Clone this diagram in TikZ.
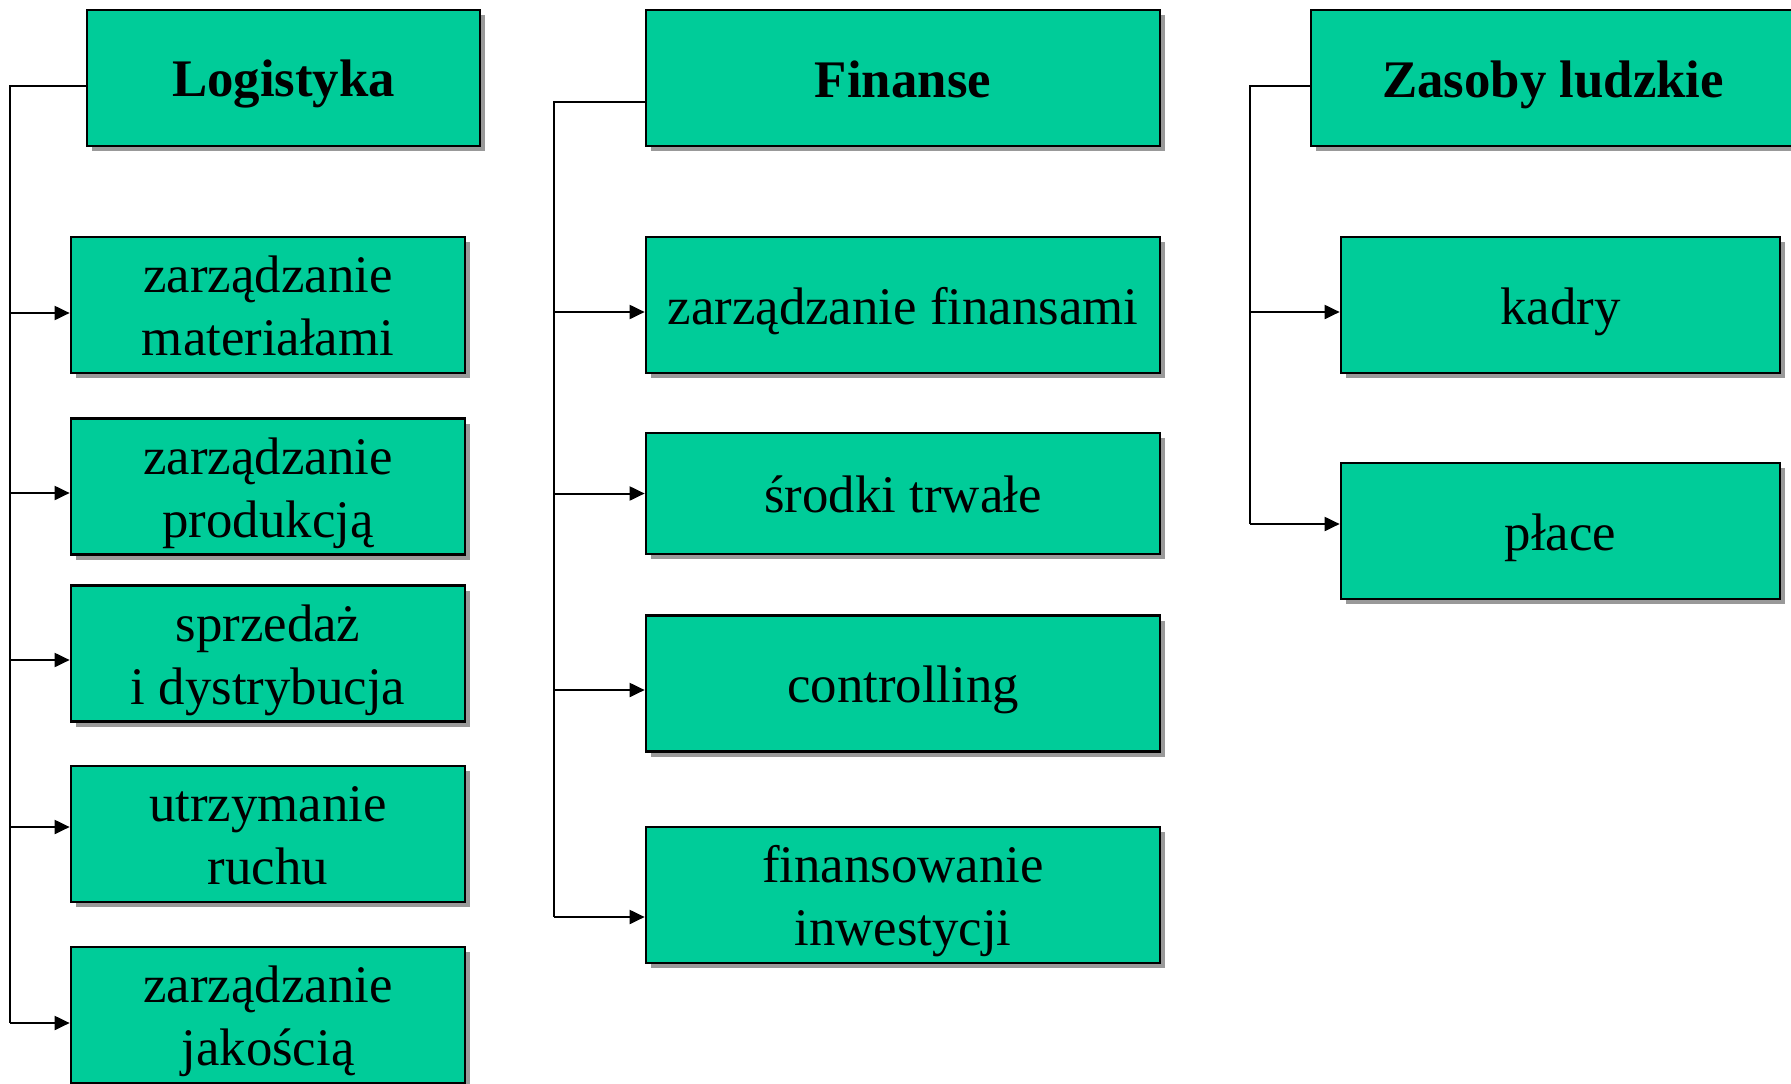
\documentclass[tikz,border=0pt]{standalone}
\usepackage{fontspec}
\setmainfont{Liberation Serif}
\usetikzlibrary{arrows.meta,calc,shadows}
\definecolor{boxgreen}{RGB}{0,204,153}
\definecolor{shadowgray}{RGB}{153,153,153}
\newcommand{\boxstrut}{\rule[-0.22em]{0pt}{1.16em}}
\newcommand{\twolines}[2]{\boxstrut#1\\#2\boxstrut}

\begin{document}
\begin{tikzpicture}[x=1pt,y=-1pt,
  box/.style={draw,line width=2.7pt,fill=boxgreen,inner sep=0pt,align=center,
    minimum height=136pt,font=\fontsize{52.8}{63}\selectfont,
    drop shadow={shadow xshift=5pt,shadow yshift=-5pt,fill=shadowgray,opacity=1}},
  one/.style={box,execute at begin node=\boxstrut,execute at end node=\boxstrut},
  head/.style={one,font=\fontsize{52.8}{63}\selectfont\bfseries},
  link/.style={line width=2pt},
  tip/.style={link,{Triangle[length=15pt,width=14pt]}-}]
\useasboundingbox (0,0) rectangle (1791,1084);
\node[head,minimum width=393pt] (log) at (283.5,78) {Logistyka};
\node[box,minimum width=394pt] (l1) at (268,305) {\twolines{zarządzanie}{materiałami}};
\node[box,minimum width=394pt] (l2) at (268,486.5) {\twolines{zarządzanie}{produkcją}};
\node[box,minimum width=394pt] (l3) at (268,653.5) {\twolines{sprzedaż}{i dystrybucja}};
\node[box,minimum width=394pt] (l4) at (268,834) {\twolines{utrzymanie}{ruchu}};
\node[box,minimum width=394pt] (l5) at (268,1015) {\twolines{zarządzanie}{jakością}};
\node[head,minimum width=514pt] (fin) at (903,78) {Finanse};
\node[one,minimum width=514pt] (f1) at (903,305) {zarządzanie finansami};
\node[one,minimum width=514pt,minimum height=121pt] (f2) at (903,493.5) {środki trwałe};
\node[one,minimum width=514pt] (f3) at (903,683.5) {controlling};
\node[box,minimum width=514pt] (f4) at (903,895) {\twolines{finansowanie}{inwestycji}};
\node[head,minimum width=484pt] (zas) at (1553,78) {Zasoby ludzkie};
\node[one,minimum width=439pt] (z1) at (1560.5,305) {kadry};
\node[one,minimum width=439pt] (z2) at (1560.5,531) {płace};
\draw[link] ($(log.west)+(0,8)$) -| ($(l5.west)+(-60,8)$);
\foreach \n/\d in {l1/8,l2/6.5,l3/6.5,l4/-7,l5/8}
  \draw[tip] ($(\n.west)+(0,\d)$) -- ++(-60,0);
\draw[link] ($(fin.west)+(0,24)$) -| ($(f4.west)+(-91,22)$);
\foreach \n/\d in {f1/7,f2/0,f3/6.5,f4/22}
  \draw[tip] ($(\n.west)+(0,\d)$) -- ++(-91,0);
\draw[link] ($(zas.west)+(0,8)$) -| ($(z2.west)+(-90,-7)$);
\foreach \n/\d in {z1/7,z2/-7}
  \draw[tip] ($(\n.west)+(0,\d)$) -- ++(-90,0);
\end{tikzpicture}
\end{document}
